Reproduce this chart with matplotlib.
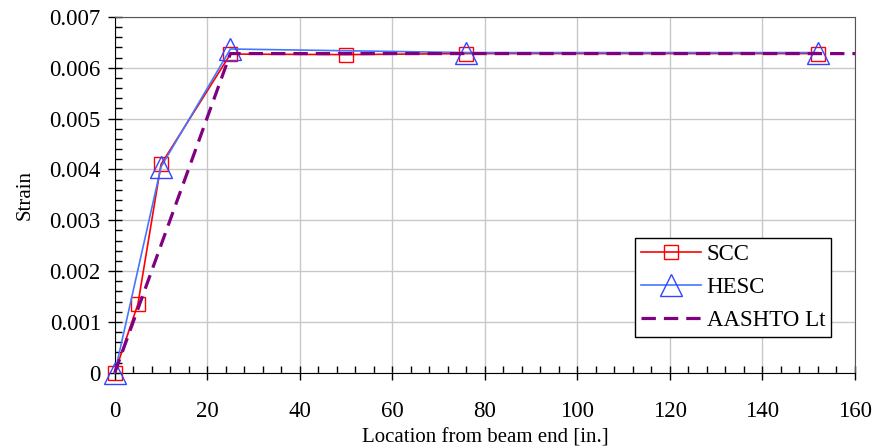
import numpy as np
import matplotlib
matplotlib.use('Agg')
import matplotlib.pyplot as plt
from matplotlib.ticker import MultipleLocator, FuncFormatter

plt.rcParams['font.family'] = ['Liberation Serif', 'DejaVu Serif']

# data
scc_x = [0, 5, 10, 25, 50, 76, 152]
scc_y = [0.0, 0.00135, 0.0041, 0.00627, 0.00626, 0.00628, 0.00628]

hesc_x = [0, 10, 25, 76, 152]
hesc_y = [0.0, 0.00405, 0.00637, 0.0063, 0.0063]

aashto_x = [0, 25, 160]
aashto_y = [0.0, 0.00628, 0.00628]

fig = plt.figure(figsize=(8.76, 4.47), dpi=100)
ax = fig.add_axes([0.131, 0.166, 0.845, 0.796])

ax.plot(scc_x, scc_y, color='red', lw=1.2, marker='s', ms=9.5, mfc='none', mec='red', mew=1.0,
        label='SCC', zorder=3, clip_on=False)
ax.plot(hesc_x, hesc_y, color='#4477ff', lw=1.2, marker='^', ms=16, mfc='none', mec='#3344ff', mew=1.0,
        label='HESC', zorder=4, clip_on=False)
ax.plot(aashto_x, aashto_y, color='#800080', lw=2.3, ls=(0, (4.5, 2.5)), label='AASHTO Lt', zorder=5,
        clip_on=False)

ax.set_xlim(0, 160)
ax.set_ylim(0, 0.007)
ax.xaxis.set_major_locator(MultipleLocator(20))
ax.xaxis.set_minor_locator(MultipleLocator(4))
ax.yaxis.set_major_locator(MultipleLocator(0.001))
ax.yaxis.set_minor_locator(MultipleLocator(0.0002))
ax.yaxis.set_major_formatter(FuncFormatter(lambda v, p: '0' if abs(v) < 1e-12 else '{:.3f}'.format(v)))

ax.tick_params(which='major', direction='inout', length=10, width=1, labelsize=16.5)
ax.tick_params(which='minor', direction='in', length=5, width=1)
ax.tick_params(axis='y', which='major', pad=5)
ax.tick_params(axis='x', which='major', pad=15)

ax.grid(True, which='major', color='#c8c8c8', lw=1)
ax.set_axisbelow(True)
for s in ['top', 'right']:
    ax.spines[s].set_color('#555555')
ax.spines['left'].set_color('black')
ax.spines['bottom'].set_color('black')

ax.set_xlabel('Location from beam end [in.]', fontsize=15, labelpad=5)
ax.set_ylabel('Strain', fontsize=15, labelpad=11)

leg = ax.legend(loc='lower right', bbox_to_anchor=(0.9676, 0.101), fontsize=16.5, fancybox=False,
                edgecolor='black', framealpha=1, handlelength=2.6, borderpad=0.25,
                labelspacing=0.53, handletextpad=0.26, borderaxespad=0)
leg.get_frame().set_linewidth(1)

fig.savefig('out.png', dpi=100)
